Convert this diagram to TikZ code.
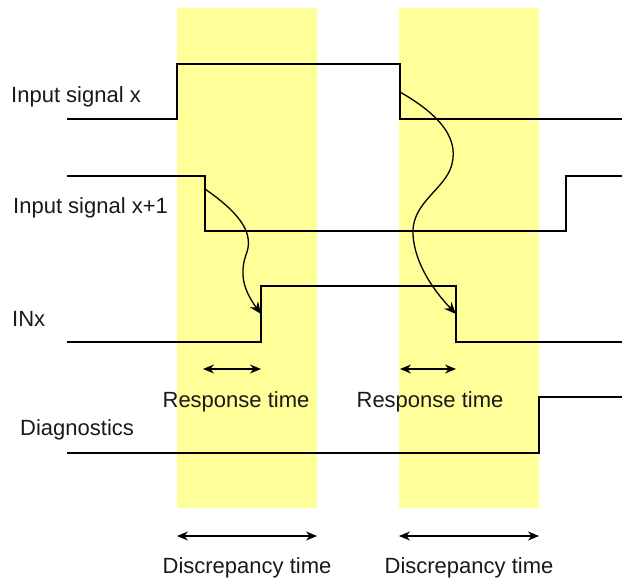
\documentclass[tikz,border=0pt]{standalone}
\usepackage{fontspec}
\setmainfont{Liberation Sans}
\usetikzlibrary{arrows.meta}
\definecolor{band}{HTML}{FFFF99}
\tikzset{
  wave/.style={line width=1.3pt, draw=black},
  conn/.style={line width=1.3pt, -{Stealth[length=12pt,width=10pt]}},
  span/.style={line width=1.3pt, {Stealth[length=11pt,width=9pt]}-{Stealth[length=11pt,width=9pt]}},
  lbl/.style={font=\fontsize{22}{24}\selectfont, inner sep=0pt, text=black!90},
}
\begin{document}
\begin{tikzpicture}[x=1pt,y=-1pt]
\useasboundingbox (0,0) rectangle (625,581);
% bands
\fill[band] (177,8) rectangle (317,508);
\fill[band] (399,8) rectangle (539,508);
% waveforms
\draw[wave] (67,119) -- (177,119) -- (177,64) -- (400,64) -- (400,119) -- (622,119);
\draw[wave] (67,176) -- (205,176) -- (205,231) -- (566,231) -- (566,176) -- (622,176);
\draw[wave] (67,342) -- (261,342) -- (261,286) -- (456,286) -- (456,342) -- (622,342);
\draw[wave] (67,453) -- (539,453) -- (539,397) -- (622,397);
% labels
\node[lbl, anchor=west] (lx) at (11,97) {Input signal x};
\node[lbl, anchor=west] (lx1) at (13,208) {Input signal x+1};
\node[lbl, anchor=west] (linx) at (12,319) {INx};
\node[lbl, anchor=west] (ldiag) at (20,430) {Diagnostics};
% curved arrows
\coordinate (s1) at (205,189);
\coordinate (e1) at (261,314);
\coordinate (s2) at (400,92);
\coordinate (e2) at (456,314);
\draw[conn] (s1) .. controls (235,210) and (254,230) .. (247,252) .. controls (238,275) and (245,292) .. (e1);
\draw[conn] (s2) .. controls (440,115) and (462,140) .. (450,170) .. controls (440,192) and (411,205) .. (413,235) .. controls (415,265) and (435,292) .. (e2);
% response time
\coordinate (r1a) at (203,369); \coordinate (r1b) at (261,369);
\coordinate (r2a) at (400,369); \coordinate (r2b) at (456,369);
\draw[span] (r1a) -- (r1b);
\draw[span] (r2a) -- (r2b);
\node[lbl] (rt1) at (236,402) {Response time};
\node[lbl] (rt2) at (430,402) {Response time};
% discrepancy time
\coordinate (d1a) at (177,536); \coordinate (d1b) at (317,536);
\coordinate (d2a) at (399,536); \coordinate (d2b) at (539,536);
\draw[span] (d1a) -- (d1b);
\draw[span] (d2a) -- (d2b);
\node[lbl] (dt1) at (247,568) {Discrepancy time};
\node[lbl] (dt2) at (469,568) {Discrepancy time};
\end{tikzpicture}
\end{document}
